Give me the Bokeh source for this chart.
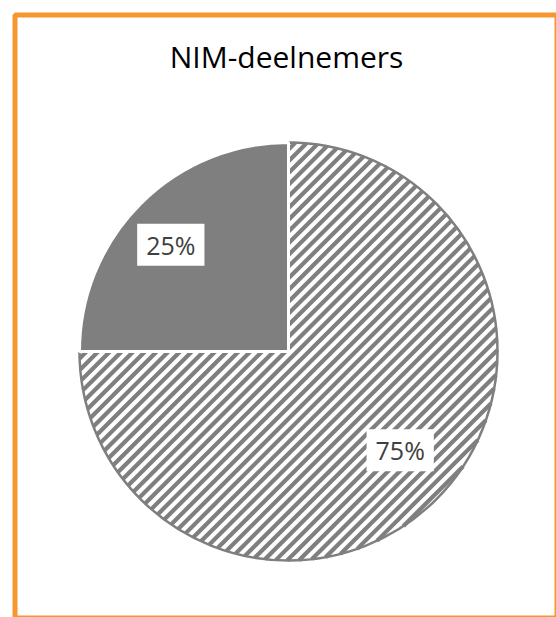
from math import pi, cos, sin, sqrt
from bokeh.plotting import figure
from bokeh.models import Range1d, ColumnDataSource
from bokeh.embed import file_html
from bokeh.resources import INLINE
from bokeh.core.properties import value

# ---- data ----
categories = ["Segment 1", "Segment 2"]
shares = [75, 25]
share_labels = ["75%", "25%"]
chart_title = "NIM-deelnemers"

# ---- layout (page pixels) ----
W, H = 556, 617
GRAY = "#7f7f7f"


def py(y):
    return H - y


p = figure(width=W, height=H, x_range=Range1d(0, W), y_range=Range1d(0, H),
           output_backend="svg", toolbar_location=None, min_border=0)
p.axis.visible = False
p.grid.visible = False
p.outline_line_color = None
p.background_fill_color = "white"
p.border_fill_color = "white"

# outer orange frame
p.quad(left=[14.5], right=[556.5], top=[py(14.5)], bottom=[py(617.5)],
       fill_color=None, line_color="#f7962e", line_width=5)

cx, cy, r = 288, py(351), 209
total = float(sum(shares))
starts, ends, mids = [], [], []
cum = 0.0
for s in shares:
    a0 = pi / 2 - 2 * pi * cum / total
    cum += s
    a1 = pi / 2 - 2 * pi * cum / total
    starts.append(a0)
    ends.append(a1)
    mids.append((a0 + a1) / 2)

# slice 1: white base
p.wedge(x=[cx], y=[cy], radius=r, start_angle=[starts[0]], end_angle=[ends[0]],
        direction="clock", fill_color="white", line_color=None)

# diagonal hatch ("/") for slice 1, clipped to the slice (excludes upper-left quadrant)
period = 11.7
x0s, y0s, x1s, y1s = [], [], [], []
c0 = cy - cx
k = int(r * sqrt(2) / period) + 1
for i in range(-k, k + 1):
    c = c0 + i * period + 3
    d = c - c0
    disc = 2 * r * r - d * d
    if disc <= 0:
        continue
    sq = sqrt(disc)
    xa = (2 * cx - d - sq) / 2
    xb = (2 * cx - d + sq) / 2
    a = max(xa, cy - c)
    b = min(xb, cx)
    pieces = []
    if a < b:
        if a > xa:
            pieces.append((xa, a))
        if xb > b:
            pieces.append((b, xb))
    else:
        pieces.append((xa, xb))
    for (u, v) in pieces:
        x0s.append(u); y0s.append(u + c)
        x1s.append(v); y1s.append(v + c)
p.segment(x0=x0s, y0=y0s, x1=x1s, y1=y1s, line_color=GRAY, line_width=4.2)

# slice 1 outline
p.wedge(x=[cx], y=[cy], radius=r, start_angle=[starts[0]], end_angle=[ends[0]],
        direction="clock", fill_color=None, line_color=GRAY, line_width=2.5)
# slice 2: solid gray
p.wedge(x=[cx], y=[cy], radius=r, start_angle=[starts[1]], end_angle=[ends[1]],
        direction="clock", fill_color=GRAY, line_color="white", line_width=3)

rl = 153
lx = [cx - 3 + 1.06 * rl * cos(m) for m in mids]
ly = [cy + 4 + 0.95 * rl * sin(m) for m in mids]
src = ColumnDataSource(dict(x=lx, y=ly, t=share_labels))
p.text(x="x", y="y", text="t", source=src, text_align="center", text_baseline="middle",
       text_font=value("Open Sans"), text_font_size="25px", text_color="#404040",
       background_fill_color="white", padding=(9, 4))

p.text(x=[286], y=[py(56)], text=[chart_title], text_align="center", text_baseline="middle",
       text_font=value("Open Sans"), text_font_size="30px", text_color="#000000")

open("out.html", "w").write(file_html(p, INLINE))
